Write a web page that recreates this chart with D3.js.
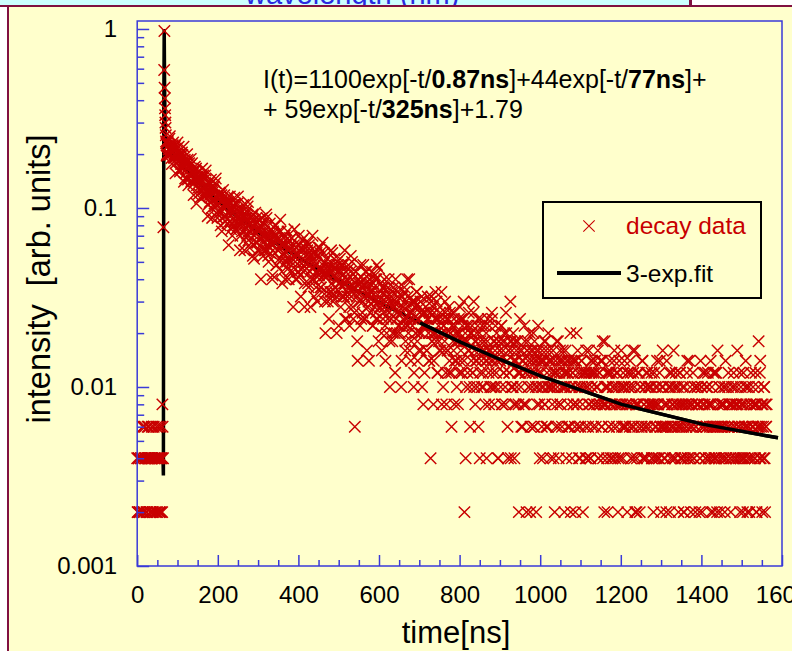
<!DOCTYPE html>
<html>
<head>
<meta charset="utf-8">
<script src="https://cdnjs.cloudflare.com/ajax/libs/d3/7.8.5/d3.min.js"></script>
<style>
body { margin: 0; background: #ffffff; }
svg { display: block; font-family: 'Liberation Sans', Arial, sans-serif; }
</style>
</head>
<body>
<div id="chart"></div>
<script>
// decay histogram, counts per channel (1 count = 0.002 on the plot)
// two interleaved passes: even ns and odd ns channels
const channelNs = 2
const countUnit = 0.002

const preStart = 0
const preCounts = [2,1,2,1,0,2,1,3,1,2,2,0,1,3,2,2,1,2,3,1,0,2,1,2,3,1,2,2,1,3,2,1,2]
const preCountsB = [1,2,1,1,2,0,2,3,1,3,2,1,2,0,3,2,1,2,2,1,3,2,0,1,2,2,3,1,2,1,2,3]

// points on the rising edge / peak, read directly
const riseTimes = [62.5, 65, 67, 67.5, 68, 68.5, 69, 69.5, 70, 70.5, 71, 71.5]
const riseValues = [0.008, 0.078, 0.59, 0.975, 0.47, 0.41, 0.36, 0.33, 0.30, 0.28, 0.255, 0.235]

const decayStart = 72
const decayCounts = [
	115,100,118,106,122,99,106,88,112,106, 95,111,89,97,116,92,100,80,94,83,
	99,88,70,93,91,79,100,72,85,77, 87,70,89,78,59,80,72,83,67,75,
	65,71,57,76,71,63,76,59,65,81, 61,67,52,63,54,68,58,44,63,62,
	53,69,47,57,52,60,47,60,54,37, 56,50,59,45,53,51,41,54,47,58,
	42,48,35,52,48,42,53,38,44,58, 41,47,35,43,37,48,40,29,46,44,
	36,51,33,41,37,44,32,46,39,26, 41,36,44,32,38,38,29,40,34,44,
	32,41,29,34,46,31,36,25,34,28, 38,31,21,36,35,28,40,24,33,29,
	34,25,37,31,19,32,28,35,25,31, 25,29,20,33,30,25,34,22,27,38,
	25,30,20,27,22,31,25,16,30,29, 22,34,19,27,23,29,19,31,25,14,
	27,23,28,20,25,24,18,27,22,30, 20,28,18,22,32,21,25,15,22,17,
	26,21,12,24,23,17,28,15,21,18, 23,16,25,20,11,22,19,24,16,21,
	16,19,12,22,20,16,24,14,18,27, 17,20,12,18,3,22,17,9,20,19,
	15,24,12,18,15,20,12,22,17,8, 18,15,20,13,17,17,11,19,15,21,
	13,20,12,15,23,14,17,10,15,12, 18,14,7,17,16,12,20,9,15,12,
	17,10,18,14,6,15,13,17,11,14, 10,13,7,16,14,11,17,9,12,20,
	11,14,8,13,9,15,12,5,14,14, 10,17,7,12,10,14,8,16,11,4,
	13,11,14,8,12,12,7,13,2,16, 9,14,7,10,17,9,12,6,11,8,
	13,10,4,12,11,8,15,6,10,8, 12,6,13,10,3,11,9,12,7,10,
	7,9,4,12,10,7,12,6,9,15, 1,10,5,9,6,11,8,3,10,10,
	6,13,5,9,7,10,5,12,8,2, 9,7,11,6,9,8,4,10,7,12,
	6,11,5,7,13,6,9,4,8,5, 10,7,2,9,8,5,11,4,8,6,
	9,4,10,7,2,8,6,15,5,8, 5,7,2,9,7,5,9,4,6,12,
	5,8,3,7,4,9,6,1,8,7, 5,10,3,7,5,8,3,9,6,1,
	7,5,8,4,7,6,3,7,5,9, 4,8,3,5,10,5,7,2,6,4,
	8,5,1,7,6,4,9,2,6,4, 7,3,8,5,1,6,5,7,3,6,
	3,5,1,7,6,4,7,3,5,10, 4,6,2,5,3,7,5,1,6,6,
	3,8,2,5,4,6,2,7,5,0, 6,4,7,3,5,5,2,6,4,7,
	3,7,2,4,9,4,5,2,5,3, 6,4,0,6,5,3,8,2,5,3,
	6,2,7,4,0,5,4,6,3,5, 3,4,1,6,5,3,6,2,4,8,
	3,5,1,4,2,6,4,0,5,5, 3,7,2,4,3,5,2,6,4,0,
	5,4,6,2,4,4,2,5,3,7, 4,2,6,3,1,5,8,3,4,2,
	3,7,4,0,5,1,5,6,3,4, 5,2,6,4,0,5,3,6,2,4,
	2,4,1,5,4,3,6,2,4,7, 5,1,3,4,0,2,5,3,4,5,
	4,0,2,7,5,1,6,3,4,2, 5,3,6,2,4,4,1,5,3,6,
	2,6,2,3,8,3,5,1,4,2, 3,5,4,1,7,2,0,5,3,4,
	2,4,5,0,6,3,4,2,5,4, 2,3,1,5,4,2,6,2,3,7,
	4,1,3,5,2,4,0,3,5,4, 2,6,1,4,3,9,2,7,3,0,
	4,2,5,1,3,4
]

const decayStartB = 73
const decayCountsB = [
	98,116,112,99,126,103,95,111,116,96, 100,78,107,101,95,110,82,99,88,102,
	83,110,89,73,89,83,93,67,89,76, 94,71,80,68,80,85,71,53,79,72,
	60,74,72,62,83,65,58,72,76,59, 63,45,69,64,59,72,50,64,55,66,
	51,73,57,44,57,53,61,40,59,48, 63,45,52,42,54,57,47,31,53,48,
	38,50,47,40,57,43,38,49,53,40, 43,29,49,45,41,52,33,45,38,48,
	35,54,40,30,41,38,45,27,43,35, 47,32,38,29,39,43,34,20,39,35,
	27,37,35,29,44,31,27,37,41,30, 32,20,37,34,32,40,24,34,29,37,
	26,43,30,22,32,28,34,20,33,26, 37,23,29,22,31,34,26,14,31,27,
	20,30,28,22,35,25,21,30,33,23, 25,14,30,27,25,32,18,27,22,29,
	20,35,23,16,24,22,28,15,27,21, 30,18,23,17,24,28,21,10,24,21,
	15,23,22,17,29,19,16,23,26,17, 20,10,24,22,19,26,14,22,18,24,
	16,29,19,12,20,18,23,11,22,16, 25,14,18,13,19,22,16,7,20,17,
	11,19,18,13,24,16,12,19,22,14, 16,7,19,17,16,22,11,18,14,20,
	12,24,15,9,16,14,19,8,18,13, 20,11,15,10,16,18,13,5,16,14,
	9,15,14,10,20,12,10,16,18,11, 13,5,16,14,12,18,8,15,11,16,
	10,20,12,7,13,11,15,6,15,10, 17,9,12,8,13,15,10,5,13,11,
	6,13,11,8,16,10,7,13,15,9, 10,4,13,12,10,15,6,12,9,14,
	8,17,10,5,11,9,13,4,12,8, 14,7,10,6,11,13,8,4,11,9,
	5,10,9,6,14,8,6,11,12,7, 9,2,11,9,8,13,5,10,7,11,
	6,15,8,4,9,7,11,3,10,6, 12,5,8,5,9,11,7,2,9,8,
	4,8,8,5,12,7,5,9,11,6, 7,2,9,8,7,11,4,9,6,10,
	5,13,7,3,8,6,9,2,9,5, 10,4,7,4,8,9,6,1,8,6,
	3,7,7,4,11,6,4,8,9,5, 6,1,8,7,6,10,3,7,5,8,
	4,11,6,2,7,5,8,2,7,4, 9,3,6,3,7,8,5,0,7,5,
	2,6,6,3,9,5,3,7,8,4, 5,0,7,6,5,8,2,6,4,7,
	3,10,5,2,6,4,7,1,7,4, 8,3,5,2,6,7,4,0,6,5,
	2,6,5,3,8,4,2,6,7,3, 4,0,6,5,4,8,2,6,4,7,
	3,9,4,1,5,4,6,1,6,3, 7,2,4,2,5,7,4,0,6,4,
	1,5,4,2,8,3,2,5,7,3, 4,0,6,5,4,7,2,5,3,6,
	2,8,4,1,4,3,6,1,5,3, 7,2,4,2,5,6,3,0,5,4,
	3,5,2,4,1,6,3,4,2,5, 4,2,7,3,0,3,5,2,4,3,
	1,4,3,5,6,2,3,4,2,8, 3,2,5,4,3,1,4,6,3,2,
	5,3,1,2,4,3,7,2,4,3, 2,4,3,6,2,5,1,3,4,5,
	4,1,2,3,5,4,3,0,6,2, 3,5,4,2,3,7,2,4,1,3,
	2,3,6,1,4,2,5,3,3,4, 4,2,3,5,2,0,3,6,4,2,
	1,3,4,2,5,3,2,4,8,3, 3,6,2,4,3,1,4,2,5,3,
	5,2,3,1,4,6,2,3,3,4, 2,4,1,3,5,3,6,2,4,1,
	3,5,2,4,3
]

// 3-exp fit curve
const fitTimes = [0, 64, 65, 66, 67, 68, 69, 70, 72, 77, 82, 92, 102, 122, 152, 202, 252, 302, 402, 502, 602, 702, 802, 902, 1002, 1202, 1402, 1590]
const fitValues = [0.004, 0.004, 0.0032, 0.35, 1.0, 0.48, 0.31, 0.255, 0.232, 0.222, 0.212, 0.198, 0.185, 0.164, 0.139, 0.108, 0.088, 0.073, 0.0524, 0.039, 0.0296, 0.0228, 0.0178, 0.0142, 0.0115, 0.0080, 0.0062, 0.0052]

const xTicks = [0, 200, 400, 600, 800, 1000, 1200, 1400, 1600]
const yTicks = [0.001, 0.01, 0.1, 1]
const yTickLabels = ['0.001', '0.01', '0.1', '1']

const red = '#c80000'
const axisBlue = '#3a3ad8'

const svg = d3.select('#chart')
	.append('svg')
	.attr('width', 792)
	.attr('height', 651)

// slide background pieces
svg.append('rect').attr('x', 0).attr('y', 0).attr('width', 792).attr('height', 651).attr('fill', '#ffffff')
svg.append('rect').attr('x', 0).attr('y', 0).attr('width', 690).attr('height', 6).attr('fill', '#ccffff')
svg.append('text')
	.attr('x', 245)
	.attr('y', 4)
	.attr('font-size', 29)
	.attr('fill', '#2a2ae0')
	.text('wavelength (nm)')
svg.append('rect').attr('x', 689).attr('y', 0).attr('width', 3).attr('height', 6).attr('fill', '#801040')
svg.append('rect').attr('x', 0).attr('y', 5).attr('width', 792).attr('height', 2).attr('fill', '#801040')
svg.append('rect').attr('x', 7).attr('y', 5).attr('width', 2).attr('height', 646).attr('fill', '#801040')
svg.append('rect').attr('x', 9).attr('y', 7).attr('width', 783).attr('height', 644).attr('fill', '#ffffcc')

const xScale = d3.scaleLinear()
	.domain([0, 1600])
	.range([137.2, 782])

const yScale = d3.scaleLog()
	.domain([0.001, 1.108])
	.range([566, 21])

let points = []
function addCounts(counts, start){
	counts.forEach(function(c, i){
		points.push({t: start + i * channelNs, v: c * countUnit})
	})
}
addCounts(preCounts, preStart)
addCounts(preCountsB, preStart + 1)
riseTimes.forEach(function(t, i){
	points.push({t: t, v: riseValues[i]})
})
addCounts(decayCounts, decayStart)
addCounts(decayCountsB, decayStartB)
points = points.filter(d => d.v > 0)

let fitPoints = fitTimes.map((t, i) => ({t: t, v: fitValues[i]}))

let lineGen = d3.line()
	.x(d => xScale(d.t))
	.y(d => yScale(d.v))

// fit under the dense part of the data
svg.append('path')
	.datum(fitPoints)
	.attr('d', lineGen)
	.attr('fill', 'none')
	.attr('stroke', '#000000')
	.attr('stroke-width', 3.5)

const cross = 'M-5.7,-5.7L5.7,5.7M-5.7,5.7L5.7,-5.7'

svg.append('g')
	.selectAll('path')
	.data(points)
	.enter()
	.append('path')
	.attr('d', cross)
	.attr('transform', d => 'translate(' + xScale(d.t) + ',' + yScale(d.v) + ')')
	.attr('fill', 'none')
	.attr('stroke', red)
	.attr('stroke-width', 1.45)

// tail of the fit sits on top of the count bands
svg.append('path')
	.datum(fitPoints.filter(d => d.t >= 702))
	.attr('d', lineGen)
	.attr('fill', 'none')
	.attr('stroke', '#000000')
	.attr('stroke-width', 3.5)

// axes
let xMinor = d3.range(0, 1601, 50).filter(v => v % 200 != 0)
let yMinor = []
yTicks.slice(0, 3).forEach(function(d){
	for(let k = 2; k <= 9; k++){
		yMinor.push(d * k)
	}
})

let xAxis = svg.append('g')
	.attr('transform', 'translate(0,566)')
	.call(d3.axisBottom(xScale).tickValues(xTicks).tickSize(-11).tickSizeOuter(0).tickPadding(20).tickFormat(d3.format('d')))
let xAxisMinor = svg.append('g')
	.attr('transform', 'translate(0,566)')
	.call(d3.axisBottom(xScale).tickValues(xMinor).tickSize(-6).tickSizeOuter(0).tickFormat(''))

let yAxis = svg.append('g')
	.attr('transform', 'translate(137.2,0)')
	.call(d3.axisLeft(yScale).tickValues(yTicks).tickSize(-12).tickSizeOuter(0).tickPadding(20).tickFormat((d, i) => yTickLabels[i]))
let yAxisMinor = svg.append('g')
	.attr('transform', 'translate(137.2,0)')
	.call(d3.axisLeft(yScale).tickValues(yMinor).tickSize(-7).tickSizeOuter(0).tickFormat(''))

;[xAxis, xAxisMinor, yAxis, yAxisMinor].forEach(function(a){
	a.select('.domain').remove()
	a.selectAll('line').attr('stroke', axisBlue).attr('stroke-width', 1.5)
	a.selectAll('text')
		.attr('fill', '#000000')
		.attr('font-size', 24)
		.attr('font-family', "'Liberation Sans', Arial, sans-serif")
})

svg.append('rect')
	.attr('x', 137.2)
	.attr('y', 21)
	.attr('width', 782 - 137.2)
	.attr('height', 566 - 21)
	.attr('fill', 'none')
	.attr('stroke', axisBlue)
	.attr('stroke-width', 1.5)

// axis titles
svg.append('text')
	.attr('x', 456)
	.attr('y', 643)
	.attr('text-anchor', 'middle')
	.attr('font-size', 31)
	.text('time[ns]')

svg.append('text')
	.attr('transform', 'translate(50,279) rotate(-90)')
	.attr('text-anchor', 'middle')
	.attr('font-size', 32.5)
	.attr('xml:space', 'preserve')
	.text('intensity  [arb. units]')

// fit formula
let formula = svg.append('text')
	.attr('x', 263)
	.attr('y', 88)
	.attr('font-size', 25)
formula.append('tspan').text('I(t)=1100exp[-t/')
formula.append('tspan').attr('font-weight', 'bold').text('0.87ns')
formula.append('tspan').text(']+44exp[-t/')
formula.append('tspan').attr('font-weight', 'bold').text('77ns')
formula.append('tspan').text(']+')

let formula2 = svg.append('text')
	.attr('x', 263)
	.attr('y', 118)
	.attr('font-size', 25)
formula2.append('tspan').text('+ 59exp[-t/')
formula2.append('tspan').attr('font-weight', 'bold').text('325ns')
formula2.append('tspan').text(']+1.79')

// legend
let legend = svg.append('g')
legend.append('rect')
	.attr('x', 543)
	.attr('y', 202)
	.attr('width', 218)
	.attr('height', 96)
	.attr('fill', '#ffffcc')
	.attr('stroke', '#000000')
	.attr('stroke-width', 2)
legend.append('path')
	.attr('d', cross)
	.attr('transform', 'translate(589,226)')
	.attr('fill', 'none')
	.attr('stroke', red)
	.attr('stroke-width', 1.1)
legend.append('text')
	.attr('x', 626)
	.attr('y', 234)
	.attr('font-size', 24.5)
	.attr('fill', red)
	.text('decay data')
legend.append('line')
	.attr('x1', 557)
	.attr('x2', 621)
	.attr('y1', 273)
	.attr('y2', 273)
	.attr('stroke', '#000000')
	.attr('stroke-width', 4)
legend.append('text')
	.attr('x', 626)
	.attr('y', 282)
	.attr('font-size', 24.5)
	.text('3-exp.fit')
</script>
</body>
</html>
